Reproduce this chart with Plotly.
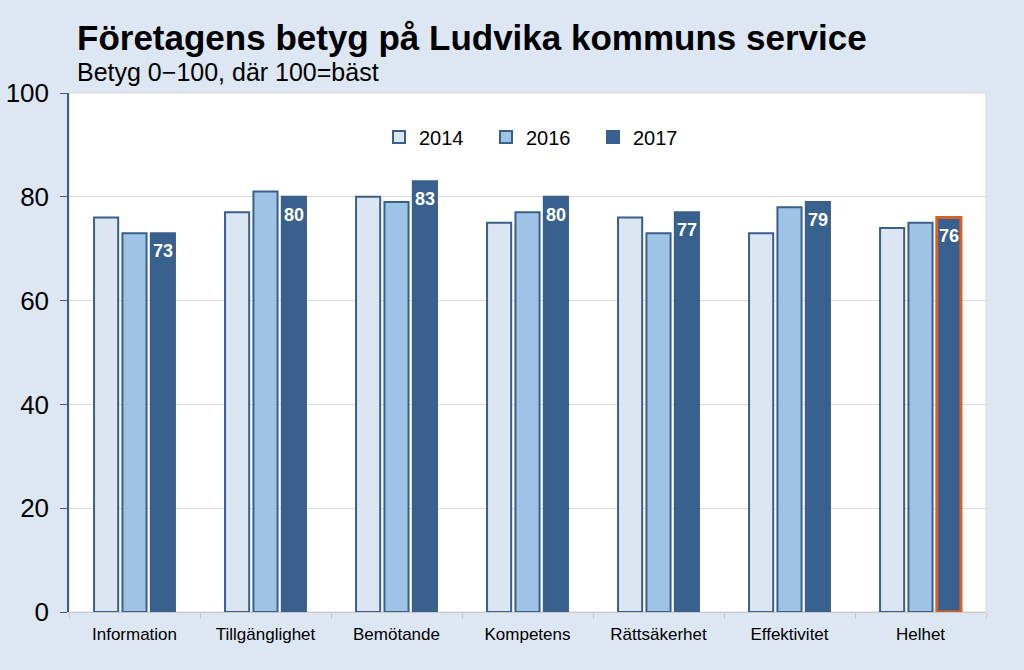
import plotly.graph_objects as go

categories = ["Information", "Tillgänglighet", "Bemötande", "Kompetens", "Rättsäkerhet", "Effektivitet", "Helhet"]
years = ["2014", "2016", "2017"]
v2014 = [76, 77, 80, 75, 76, 73, 74]
v2016 = [73, 81, 79, 77, 73, 78, 75]
v2017 = [73, 80, 83, 80, 77, 79, 76]
y_ticks = [0, 20, 40, 60, 80, 100]

title = "Företagens betyg på Ludvika kommuns service"
subtitle = "Betyg 0\u2212100, där 100=bäst"

BORDER = "#3a5f8b"
fills = ["#dce6f2", "#9fc3e7", "#386190"]
font_family = "Liberation Sans, Arial, sans-serif"
BARGAP = 0.35

ML, MR, MT, MB = 69, 38, 93, 58
W, H = 1024, 670
W_plot = W - ML - MR
H_plot = H - MT - MB


def px_x(x):
    return (x - ML) / W_plot


def px_y(y):
    return (H - MB - y) / H_plot


fig = go.Figure()
for name, vals, fill in zip(years, [v2014, v2016, v2017], fills):
    is_last = name == "2017"
    line_colors = [BORDER] * len(vals)
    line_widths = [2] * len(vals)
    if is_last:
        line_colors[-1] = "#d2622a"
        line_widths[-1] = 3
    fig.add_trace(go.Bar(
        name=name, x=categories, y=vals,
        marker=dict(color=fill, line=dict(color=line_colors, width=line_widths)),
    ))

# value labels on the 2017 bars
slot = (1 - BARGAP) / 3
annotations = []
for i, v in enumerate(v2017):
    annotations.append(dict(
        x=i + slot, y=v, xref="x", yref="y", text="<b>%d</b>" % v,
        showarrow=False, xanchor="center", yanchor="top", yshift=-6,
        font=dict(color="white", size=18),
    ))

annotations += [
    dict(text="<b>" + title + "</b>", x=px_x(75), y=px_y(38), xref="paper", yref="paper",
         showarrow=False, font=dict(size=35), xanchor="left", yanchor="middle"),
    dict(text=subtitle, x=px_x(75), y=px_y(72), xref="paper", yref="paper",
         showarrow=False, font=dict(size=25), xanchor="left", yanchor="middle"),
]

fig.update_layout(
    width=W, height=H,
    paper_bgcolor="#dde7f3",
    plot_bgcolor="white",
    margin=dict(l=ML, r=MR, t=MT, b=MB, autoexpand=False),
    barmode="group", bargap=BARGAP, bargroupgap=0.15,
    font=dict(family=font_family, color="black"),
    showlegend=True,
    legend=dict(orientation="h", x=px_x(379), xanchor="left", y=px_y(137), yanchor="middle",
                bgcolor="rgba(0,0,0,0)", font=dict(size=20), entrywidth=62,
                itemsizing="constant"),
    annotations=annotations,
    shapes=[dict(type="rect", xref="paper", yref="paper", x0=0, x1=1, y0=0, y1=1,
                 line=dict(color="#d9d9d9", width=1), layer="below")],
)

fig.update_xaxes(
    showline=True, linecolor="#c8c8c8", linewidth=1,
    ticks="outside", tickson="boundaries", ticklen=6, tickcolor="#c8c8c8",
    tickfont=dict(size=17), showgrid=False, ticklabelstandoff=7, automargin=False,
)
fig.update_yaxes(
    range=[0, 100], tickvals=y_ticks,
    showline=True, linecolor=BORDER, linewidth=1.5,
    ticks="outside", ticklen=7, tickcolor=BORDER,
    tickfont=dict(size=26),
    gridcolor="#d9d9d9", gridwidth=1,
    ticklabelstandoff=6, automargin=False,
    zeroline=False,
)

fig.write_html("out.html", config={"displayModeBar": False},
               post_script="document.body.style.margin='0';")
